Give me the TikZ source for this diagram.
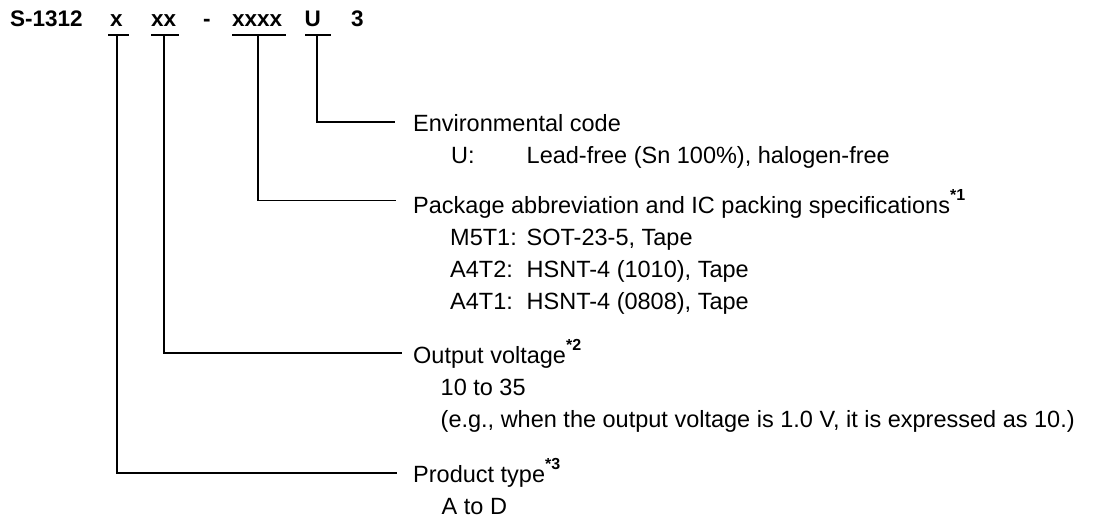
\documentclass[tikz,border=0pt]{standalone}
\usepackage{fontspec}
\setmainfont{Liberation Sans}
\newcommand{\supnote}[1]{\raisebox{12.5pt}{\bfseries\fontsize{16}{18}\selectfont #1}}
\begin{document}
\begin{tikzpicture}[x=1pt,y=-1pt,
  txt/.style={inner sep=0pt,anchor=base west,font=\fontsize{23.5}{28}\selectfont},
  ttl/.style={inner sep=0pt,anchor=base west,font=\fontsize{22.5}{27}\selectfont\bfseries},
  lead/.style={line width=1.8pt,line cap=butt}]
\useasboundingbox (0,0) rectangle (1103,520);
% title
\node[ttl] (tS) at (10,26.7) {S-1312};
\node[ttl] (t1) at (110,26.7) {x};
\node[ttl] (t2) at (151,26.7) {xx};
\node[ttl] (t3) at (203,26.7) {-};
\node[ttl] (t4) at (232,26.7) {xxxx};
\node[ttl] (t5) at (304.5,26.7) {U};
\node[ttl] (t6) at (351,26.7) {3};
% underlines
\coordinate (a1) at (108,35); \coordinate (b1) at (129,35); \coordinate (c1) at (117,35);
\coordinate (a2) at (151,35); \coordinate (b2) at (179,35); \coordinate (c2) at (164,35);
\coordinate (a3) at (232,35); \coordinate (b3) at (286,35); \coordinate (c3) at (258,35);
\coordinate (a4) at (305,35); \coordinate (b4) at (331,35); \coordinate (c4) at (317,35);
\draw[lead] (a1) -- (b1);
\draw[lead] (a2) -- (b2);
\draw[lead] (a3) -- (b3);
\draw[lead] (a4) -- (b4);
% line ends
\coordinate (eEnv) at (395,122);
\coordinate (ePkg) at (396,200.5);
\coordinate (eOut) at (402,353.3);
\coordinate (ePrd) at (397,473.3);
\draw[lead] (c4) |- (eEnv);
\draw[lead] (c3) |- (ePkg);
\draw[lead] (c2) |- (eOut);
\draw[lead] (c1) |- (ePrd);
% environmental code
\node[txt] (env) at (413,131.7) {Environmental code};
\node[txt] (envU) at (451,163.3) {U:};
\node[txt] (envUd) at (526.5,163.3) {Lead-free (Sn 100\%), halogen-free};
% package
\node[txt] (pkg) at (413,213.3) {Package abbreviation and IC packing specifications\supnote{*1}};
\node[txt] (pk1) at (450,245) {M5T1:};
\node[txt] (pk1d) at (526.5,245) {SOT-23-5, Tape};
\node[txt] (pk2) at (450,277.3) {A4T2:};
\node[txt] (pk2d) at (526.5,277.3) {HSNT-4 (1010), Tape};
\node[txt] (pk3) at (450,309.3) {A4T1:};
\node[txt] (pk3d) at (526.5,309.3) {HSNT-4 (0808), Tape};
% output voltage
\node[txt] (out) at (413,363) {Output voltage\supnote{*2}};
\node[txt] (out1) at (440.5,395) {10 to 35};
\node[txt] (out2) at (440.5,427) {(e.g., when the output voltage is 1.0 V, it is expressed as 10.)};
% product type
\node[txt] (prd) at (413,482) {Product type\supnote{*3}};
\node[txt] (prd1) at (441.5,514) {A to D};
\end{tikzpicture}
\end{document}
